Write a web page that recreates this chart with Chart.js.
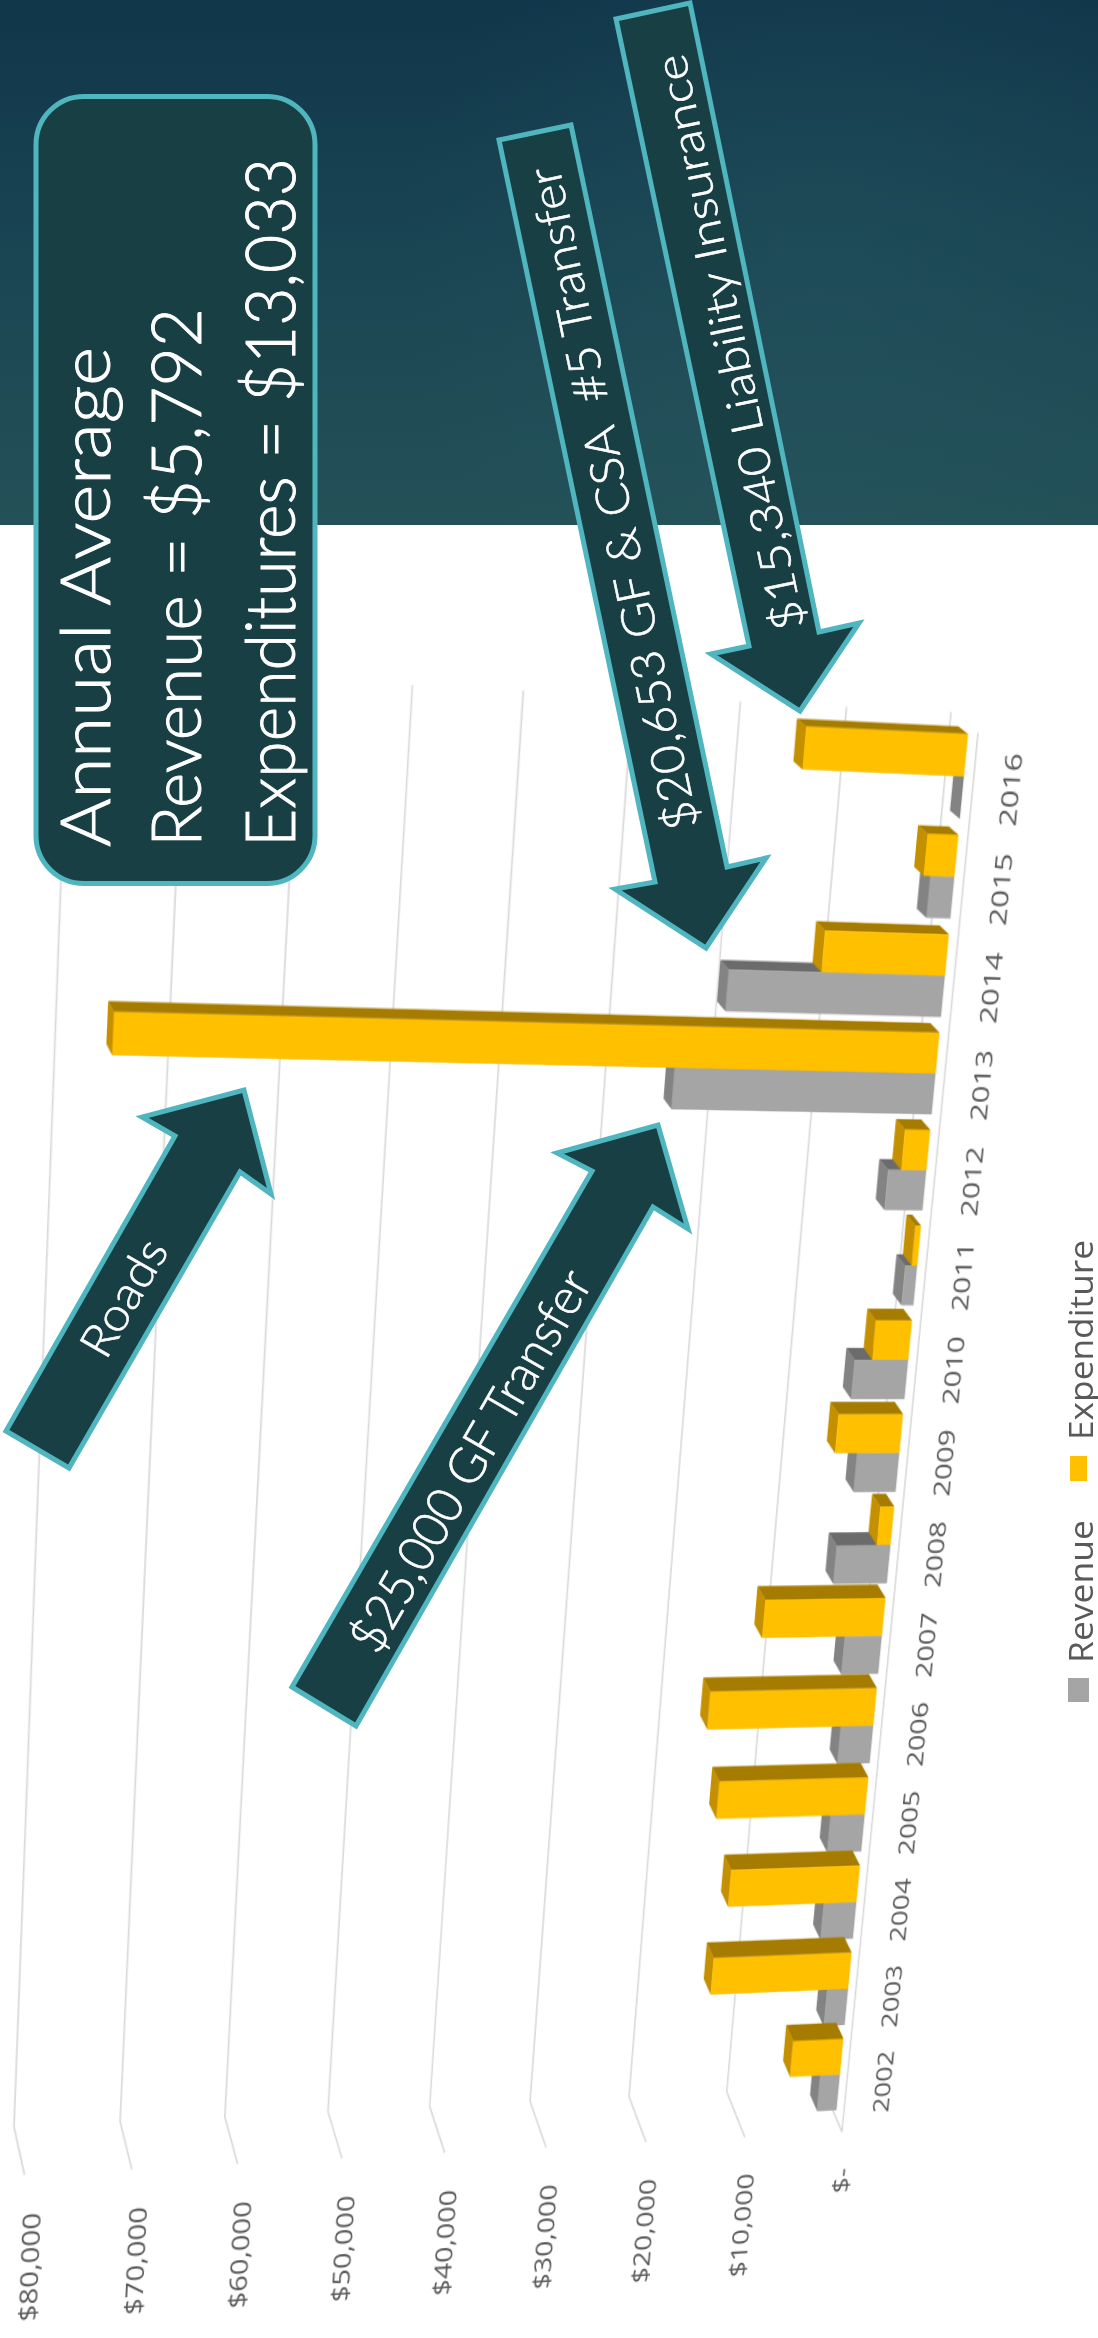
<!DOCTYPE html>
<html>
<head>
<meta charset="utf-8">
<title>Road fund revenue and expenditure</title>
<script src="https://cdn.jsdelivr.net/npm/chart.js@4/dist/chart.umd.min.js"></script>
<style>
  html, body { margin: 0; padding: 0; background: #fff; }
  #page { position: relative; width: 1098px; height: 2338px; overflow: hidden; background: #fff; }
  #banner {
    position: absolute; left: 0; top: 0; width: 1098px; height: 525px;
    background:
      radial-gradient(ellipse 420px 420px at 820px 260px, rgba(45,95,105,0.28), rgba(45,95,105,0) 100%),
      linear-gradient(180deg, #10364a 0%, #1a4553 50%, #245158 100%);
  }
  #chart { position: absolute; left: 0; top: 0; transform-origin: 0 0; }
  #callouts { position: absolute; left: 0; top: 0; }
  #callouts .shape { fill: #183f44; stroke: #4fb5be; stroke-width: 5; stroke-linejoin: miter; }
  #callouts text { font-family: Lato, "Open Sans", sans-serif; font-weight: 300; fill: #fff; stroke: #fff; stroke-width: 0.6; }
  #callouts text.big { stroke-width: 0.9; }
  #callouts text.key { font-family: "Open Sans", sans-serif; font-weight: 400; fill: #595959; stroke: none; }
</style>
</head>
<body>
<div id="page">
  <div id="banner"></div>
  <canvas id="chart" width="1344" height="1015"></canvas>
  <svg id="callouts" width="1098" height="2338" viewBox="0 0 1098 2338">
    <rect class="shape" x="36" y="96.5" width="279" height="787" rx="48" ry="48"/>
    <text class="big" font-size="68" transform="translate(110,847) rotate(-90)" textLength="500" lengthAdjust="spacingAndGlyphs">Annual Average</text>
    <text class="big" font-size="68" transform="translate(201,847) rotate(-90)" textLength="539" lengthAdjust="spacingAndGlyphs">Revenue = $5,792</text>
    <text class="big" font-size="68" transform="translate(295,847) rotate(-90)" textLength="689" lengthAdjust="spacingAndGlyphs">Expenditures = $13,033</text>

    <polygon class="shape" points="499,140 571,125 727,867 766,858 706,948 615,889 655,882"/>
    <text font-size="46" text-anchor="middle" dominant-baseline="central" transform="translate(611.5,499) rotate(-101.9)" textLength="676" lengthAdjust="spacingAndGlyphs">$20,653 GF &amp; CSA&#160; #5 Transfer</text>

    <polygon class="shape" points="616,19 690,3 819,632 859,623 800,711 711,654 749,646"/>
    <text font-size="44" text-anchor="middle" dominant-baseline="central" transform="translate(728,343) rotate(-101.8)" textLength="587" lengthAdjust="spacingAndGlyphs">$15,340 Liability Insurance</text>

    <polygon class="shape" points="6,1431 69,1468 240,1172 271,1194 244,1090 142,1117 175,1136"/>
    <text font-size="46" text-anchor="middle" dominant-baseline="central" transform="translate(122.5,1297) rotate(-60)" textLength="128" lengthAdjust="spacingAndGlyphs">Roads</text>

    <polygon class="shape" points="292,1687 356,1726 653,1207 688,1229 658,1125 557,1153 592,1171"/>
    <text font-size="50" text-anchor="middle" dominant-baseline="central" transform="translate(469,1460) rotate(-60)" textLength="432" lengthAdjust="spacingAndGlyphs">$25,000 GF Transfer</text>

    <!-- series key, sits square to the page rather than on the chart's slant -->
    <rect x="1068" y="1678" width="21" height="24" fill="#a5a5a5"/>
    <text class="key" font-size="32" transform="translate(1093,1663) rotate(-90)" textLength="143" lengthAdjust="spacingAndGlyphs">Revenue</text>
    <rect x="1070" y="1456" width="17" height="25" fill="#ffc000"/>
    <text class="key" font-size="32" transform="translate(1093,1440) rotate(-90)" textLength="200" lengthAdjust="spacingAndGlyphs">Expenditure</text>
  </svg>
</div>

<script>
const categories = ['2002', '2003', '2004', '2005', '2006', '2007', '2008', '2009', '2010', '2011', '2012', '2013', '2014', '2015', '2016'];
const revenue = [2030, 2200, 3340, 3480, 3290, 3730, 5370, 4200, 5300, 1200, 3750, 25000, 20653, 2350, 40];
const expenditure = [5160, 14040, 13050, 14990, 16640, 12010, 1400, 6400, 3580, 570, 2480, 75930, 11900, 2980, 15340];
const tickLabels = ['$-', '$10,000', '$20,000', '$30,000', '$40,000', '$50,000', '$60,000', '$70,000', '$80,000'];

// where the plot sits on the page (bl = first year/$0, br = last year/$0, tl/tr = $80,000)
const barPlane = { bl: [836, 2117], br: [969, 726], tr: [80, 684], tl: [21, 2159] };
const wallPlane = { bl: [823, 2087], br: [951, 712], tr: [69, 668], tl: [14, 2127] };
const floorEdge = { bl: [842, 2132], br: [978, 733], tr: [86, 692], tl: [24.5, 2175] };

const gridColor = '#d9d9d9';
const faceShades = {
    Revenue: { side: '#6b6b6b', end: '#838383' },
    Expenditure: { side: '#a67c00', end: '#c49000' }
};

// 8x8 solve for the projective map taking src corners to dst corners
function solveHomography(src, dst) {
    const m = [];
    for (let i = 0; i < 4; i++) {
        const [x, y] = src[i];
        const [u, v] = dst[i];
        m.push([x, y, 1, 0, 0, 0, -u * x, -u * y, u]);
        m.push([0, 0, 0, x, y, 1, -v * x, -v * y, v]);
    }
    for (let c = 0; c < 8; c++) {
        let p = c;
        for (let r = c + 1; r < 8; r++) {
            if (Math.abs(m[r][c]) > Math.abs(m[p][c])) p = r;
        }
        [m[c], m[p]] = [m[p], m[c]];
        for (let r = 0; r < 8; r++) {
            if (r === c) continue;
            const f = m[r][c] / m[c][c];
            for (let k = c; k < 9; k++) m[r][k] -= f * m[c][k];
        }
    }
    return m.map((row, i) => row[8] / row[i]);
}

function mapPoint(h, p) {
    const w = h[6] * p[0] + h[7] * p[1] + 1;
    return [(h[0] * p[0] + h[1] * p[1] + h[2]) / w, (h[3] * p[0] + h[4] * p[1] + h[5]) / w];
}

function lerp(a, b, t) {
    return [a[0] + (b[0] - a[0]) * t, a[1] + (b[1] - a[1]) * t];
}

let wall, front, area, depthAt;

function drawDepthFaces(chart, index) {
    const ctx = chart.ctx;
    const shades = faceShades[chart.data.datasets[index].label];
    chart.getDatasetMeta(index).data.forEach(bar => {
        const left = bar.x - bar.width / 2;
        const right = bar.x + bar.width / 2;
        const fill = (color, pts) => {
            ctx.fillStyle = color;
            ctx.beginPath();
            pts.forEach((p, i) => {
                const d = p[2] ? depthAt(p[0], p[1]) : [0, 0];
                if (i === 0) ctx.moveTo(p[0] + d[0], p[1] + d[1]);
                else ctx.lineTo(p[0] + d[0], p[1] + d[1]);
            });
            ctx.closePath();
            ctx.fill();
        };
        fill(shades.side, [[right, bar.base, 0], [right, bar.y, 0], [right, bar.y, 1], [right, bar.base, 1]]);
        fill(shades.end, [[left, bar.y, 0], [right, bar.y, 0], [right, bar.y, 1], [left, bar.y, 1]]);
    });
}

// works out the page warp once the plot area is known and keeps the wall/floor corners in canvas space
const perspective = {
    id: 'perspective',
    afterLayout(chart) {
        const a = chart.chartArea;
        area = { bl: [a.left, a.bottom], br: [a.right, a.bottom], tr: [a.right, a.top], tl: [a.left, a.top] };
        const keys = ['bl', 'br', 'tr', 'tl'];
        const h = solveHomography(keys.map(k => area[k]), keys.map(k => barPlane[k]));
        const inv = solveHomography(keys.map(k => barPlane[k]), keys.map(k => area[k]));
        chart.canvas.style.transform = 'matrix3d(' + [
            h[0], h[3], 0, h[6],
            h[1], h[4], 0, h[7],
            0, 0, 1, 0,
            h[2], h[5], 0, 1
        ].join(',') + ')';

        wall = {};
        front = {};
        const offs = {};
        keys.forEach(k => {
            wall[k] = mapPoint(inv, wallPlane[k]);
            front[k] = mapPoint(inv, floorEdge[k]);
            offs[k] = [(wall[k][0] - area[k][0]) * 0.55, (wall[k][1] - area[k][1]) * 0.55];
        });
        // bar depth varies over the plot, roughly half of the gap to the back wall
        depthAt = function(x, y) {
            const u = (x - a.left) / (a.right - a.left);
            const t = (a.bottom - y) / (a.bottom - a.top);
            return lerp(lerp(offs.bl, offs.br, u), lerp(offs.tl, offs.tr, u), t);
        };
    },
    // back wall lines, floor lines and the front axis line
    beforeDatasetsDraw(chart) {
        const ctx = chart.ctx;
        const a = chart.chartArea;
        const yScale = chart.scales.y;
        ctx.save();
        ctx.strokeStyle = gridColor;
        ctx.lineWidth = 1.6;
        ctx.lineJoin = 'round';
        yScale.ticks.forEach(tick => {
            const t = (a.bottom - yScale.getPixelForValue(tick.value)) / (a.bottom - a.top);
            const top = lerp(wall.br, wall.tr, t);
            const bend = lerp(wall.bl, wall.tl, t);
            const end = lerp(front.bl, front.tl, t);
            ctx.beginPath();
            ctx.moveTo(top[0], top[1]);
            ctx.lineTo(bend[0], bend[1]);
            ctx.lineTo(end[0], end[1]);
            ctx.stroke();
        });
        ctx.beginPath();
        ctx.moveTo(front.bl[0], front.bl[1]);
        ctx.lineTo(front.br[0], front.br[1]);
        ctx.stroke();
        ctx.restore();
    },
    // the library paints later datasets first; hold Expenditure back so it lands over Revenue
    beforeDatasetDraw(chart, args) {
        if (args.index === 1) return false;
        drawDepthFaces(chart, args.index);
    },
    afterDatasetsDraw(chart) {
        drawDepthFaces(chart, 1);
        chart.getDatasetMeta(1).controller.draw();
    }
};

Chart.defaults.font.family = '"Open Sans", sans-serif';
Chart.defaults.color = '#595959';

new Chart(document.getElementById('chart'), {
    type: 'bar',
    data: {
        labels: categories,
        datasets: [
            { label: 'Revenue', data: revenue, backgroundColor: '#a5a5a5' },
            { label: 'Expenditure', data: expenditure, backgroundColor: '#ffc000' }
        ]
    },
    plugins: [perspective],
    options: {
        responsive: false,
        devicePixelRatio: 2,
        animation: false,
        categoryPercentage: 0.84,
        barPercentage: 1,
        layout: { padding: { left: 20, right: 80, top: 100, bottom: 10 } },
        plugins: {
            tooltip: { enabled: false },
            legend: { display: false }
        },
        scales: {
            x: {
                grid: { display: false },
                border: { display: false },
                ticks: { font: { size: 23 }, padding: 27, labelOffset: -8, maxRotation: 0, autoSkip: false }
            },
            y: {
                min: 0,
                max: 80000,
                grid: { display: false },
                border: { display: false },
                ticks: {
                    stepSize: 10000,
                    padding: 36,
                    labelOffset: 14,
                    font: { size: 24 },
                    callback(value, i) { return tickLabels[i]; }
                }
            }
        }
    }
});
</script>
</body>
</html>
